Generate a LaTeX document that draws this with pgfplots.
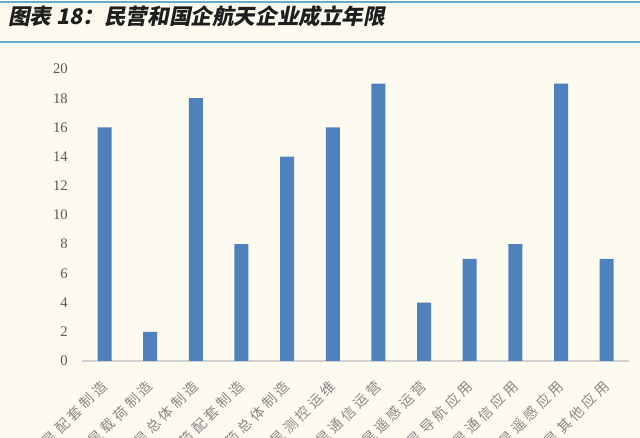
\documentclass[border=0pt]{standalone}
\usepackage{pgfplots}
\pgfplotsset{compat=1.18}
\usepackage{fontspec}
\setmainfont{Liberation Serif}
\newfontfamily\cjk{Noto Sans CJK SC}[LetterSpace=25]
\newfontfamily\cjkt{Noto Sans CJK SC}[FakeSlant=0.2]
\definecolor{bg}{RGB}{253,250,240}
\definecolor{barblue}{RGB}{79,129,189}
\definecolor{rule}{RGB}{100,172,204}
\definecolor{ticktxt}{RGB}{89,89,89}
\definecolor{labtxt}{RGB}{135,135,135}
\definecolor{axisgray}{RGB}{210,210,210}
\begin{document}
\begin{tikzpicture}
\fill[bg] (0,0) rectangle (480pt,328.5pt);
\useasboundingbox (0,0) rectangle (480pt,328.5pt);
\draw[rule, line width=1.6pt] (0,327.3pt) -- (480pt,327.3pt);
\draw[rule, line width=1.6pt] (0,297.2pt) -- (480pt,297.2pt);
\node[anchor=west, inner sep=0pt, text={rgb,255:red,30;green,30;blue,30}] at (6pt,316pt)
  {\fontsize{16.2}{18}\selectfont\cjkt\bfseries 图表\ \textbf{\textit{18}}：民营和国企航天企业成立年限};
\begin{axis}[
  at={(61.3pt,57.75pt)}, anchor=south west,
  scale only axis, width=410.8pt, height=219pt,
  xmin=-0.5, xmax=11.5, ymin=0, ymax=20,
  ytick={0,2,...,20},
  xtick={0,...,11},
  xticklabels={卫星配套制造,卫星载荷制造,卫星总体制造,火箭配套制造,火箭总体制造,卫星测控运维,卫星通信运营,卫星遥感运营,卫星导航应用,卫星通信应用,卫星遥感应用,卫星其他应用},
  axis lines*=left,
  y axis line style={draw=none},
  x axis line style={draw=axisgray, line width=0.8pt, -},
  tick style={draw=none},
  yticklabel style={font=\fontsize{11}{13}\selectfont, text=ticktxt, inner sep=0pt, anchor=east, xshift=-10.3pt},
  xticklabel style={font=\fontsize{10.5}{12}\selectfont\cjk, text=labtxt, rotate=45, anchor=east, inner sep=0pt, yshift=-9pt, xshift=-9pt},
  /pgf/number format/assume math mode=true,
  ybar, bar width=10.5pt,
  clip=false,
]
\addplot[fill=barblue, draw=none] coordinates {
(0,16) (1,2) (2,18) (3,8) (4,14) (5,16) (6,19) (7,4) (8,7) (9,8) (10,19) (11,7)};
\end{axis}
\end{tikzpicture}
\end{document}
